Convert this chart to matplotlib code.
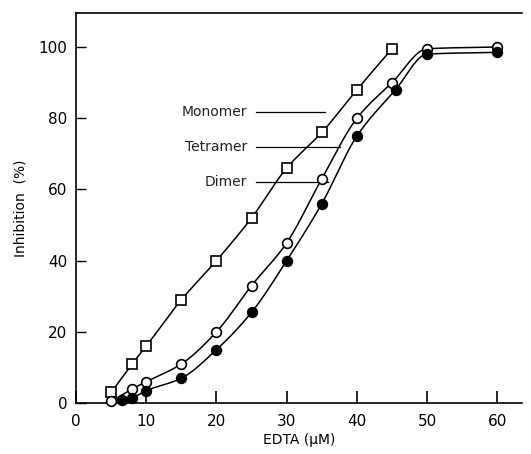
import numpy as np
import matplotlib
matplotlib.use('Agg')
import matplotlib.pyplot as plt

# data (EDTA in uM, inhibition in %)
mono_x = [5, 8, 10, 15, 20, 25, 30, 35, 40, 45]
mono_y = [3, 11, 16, 29, 40, 52, 66, 76, 88, 99.5]

tetra_x = [5, 8, 10, 15, 20, 25, 30, 35, 40, 45, 50, 60]
tetra_y = [0.5, 4, 6, 11, 20, 33, 45, 63, 80, 90, 99.5, 100]

dimer_x = [6.5, 8, 10, 15, 20, 25, 30, 35, 40, 45.5, 50, 60]
dimer_y = [1, 1.5, 3.5, 7, 15, 25.5, 40, 56, 75, 88, 98, 98.5]

labels = ['Monomer', 'Tetramer', 'Dimer']
label_y = [81.7, 72, 62]
leader_end = [35.5, 37.6, 35.9]


def smooth(x, y, n=25):
    # monotone cubic (Fritsch-Carlson) through the points, only for the drawn curve
    x = np.asarray(x, float)
    y = np.asarray(y, float)
    h = np.diff(x)
    d = np.diff(y) / h
    m = np.zeros_like(y)
    m[0], m[-1] = d[0], d[-1]
    for i in range(1, len(x) - 1):
        if d[i - 1] * d[i] <= 0:
            m[i] = 0
        else:
            w1 = 2 * h[i] + h[i - 1]
            w2 = h[i] + 2 * h[i - 1]
            m[i] = (w1 + w2) / (w1 / d[i - 1] + w2 / d[i])
    xs, ys = [], []
    for i in range(len(x) - 1):
        t = np.linspace(0, 1, n)
        h00 = 2 * t ** 3 - 3 * t ** 2 + 1
        h10 = t ** 3 - 2 * t ** 2 + t
        h01 = -2 * t ** 3 + 3 * t ** 2
        h11 = t ** 3 - t ** 2
        xs.append(x[i] + t * h[i])
        ys.append(h00 * y[i] + h10 * h[i] * m[i] + h01 * y[i + 1] + h11 * h[i] * m[i + 1])
    return np.concatenate(xs), np.concatenate(ys)


plt.rcParams['font.family'] = ['DejaVu Sans']
fig = plt.figure(figsize=(5.31, 4.54), dpi=100)
ax = fig.add_axes([0.143, 0.112, 0.840, 0.859])

lw = 1.1
for xs, ys in ((mono_x, mono_y), (tetra_x, tetra_y), (dimer_x, dimer_y)):
    sx, sy = smooth(xs, ys)
    ax.plot(sx, sy, color='black', lw=lw, clip_on=False, zorder=2)

ax.plot(mono_x, mono_y, 's', ms=7, mfc='white', mec='black', mew=1.2, clip_on=False, zorder=3)
ax.plot(tetra_x, tetra_y, 'o', ms=7, mfc='white', mec='black', mew=1.2, clip_on=False, zorder=3)
ax.plot(dimer_x, dimer_y, 'o', ms=7, mfc='black', mec='black', mew=1.2, clip_on=False, zorder=4)

for lab, ly, le in zip(labels, label_y, leader_end):
    ax.text(24.4, ly, lab, ha='right', va='center', fontsize=10, color='#222222')
    ax.plot([25.6, le], [ly, ly], color='black', lw=0.9)

ax.set_xlim(0, 63.5)
ax.set_ylim(0, 109.5)
ax.set_xticks([0, 10, 20, 30, 40, 50, 60])
ax.set_yticks([0, 20, 40, 60, 80, 100])
ax.tick_params(axis='x', direction='in', length=9, width=1.2, labelsize=11, pad=8)
ax.tick_params(axis='y', direction='in', length=7, width=1.0, labelsize=11, pad=6)
ax.spines['right'].set_visible(False)
for s in ('left', 'bottom', 'top'):
    ax.spines[s].set_linewidth(1.2)

ax.set_xlabel('EDTA (\u03bcM)', fontsize=10, labelpad=3)
ax.set_ylabel('Inhibition  (%)', fontsize=10, labelpad=8)

fig.savefig('out.png', dpi=100)
